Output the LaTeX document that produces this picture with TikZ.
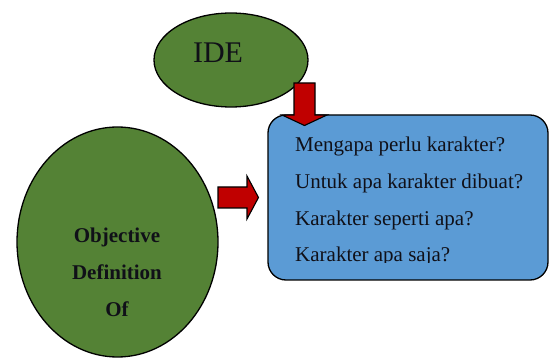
\documentclass[tikz,border=0pt]{standalone}
\usepackage{fontspec}
\setmainfont{Liberation Serif}
\definecolor{leaf}{HTML}{548235}
\definecolor{sky}{HTML}{5B9BD5}
\definecolor{brick}{HTML}{C00000}
\definecolor{ink}{HTML}{101018}
\begin{document}
\begin{tikzpicture}[x=1pt,y=-1pt,
  blob/.style={draw=black,line width=1.3pt,fill=leaf},
  arrowshape/.style={draw=black,line width=1.1pt,fill=brick,line join=miter},
  qline/.style={anchor=base west,inner sep=0pt,font=\fontsize{21}{24}\selectfont,text=ink},
  oline/.style={anchor=base,inner sep=0pt,font=\fontsize{21}{24}\selectfont\bfseries,text=ink}]
\useasboundingbox (0,0) rectangle (550,358);
% IDE ellipse
\draw[blob] (231,60) ellipse [x radius=77, y radius=47];
\node[inner sep=0pt,anchor=base,font=\fontsize{30}{34}\selectfont,text=ink] (ide) at (218,63) {IDE};
% left ellipse
\draw[blob] (117.5,242) ellipse [x radius=100.5, y radius=115];
\node[oline] (o1) at (117,243) {Objective};
\node[oline] (o2) at (117,280) {Definition};
\node[oline] (o3) at (117,317) {Of};
% blue box
\draw[draw=black,line width=1.3pt,fill=sky,rounded corners=18pt] (268,115) rectangle (548,280);
\node[qline] (q1) at (295,152) {Mengapa perlu karakter?};
\node[qline] (q2) at (295,189) {Untuk apa karakter dibuat?};
\node[qline] (q3) at (295,226) {Karakter seperti apa?};
\begin{scope}
\clip (270,230) rectangle (546,262.5);
\node[qline] (q4) at (295,262) {Karakter apa saja?};
\end{scope}
% down arrow
\draw[arrowshape] (294,83) -- (315,83) -- (315,115) -- (327,115) -- (304.5,125.5) -- (282,115) -- (294,115) -- cycle;
% right arrow
\draw[arrowshape] (218,187) -- (247,187) -- (247,176) -- (258.5,197.5) -- (247,219) -- (247,208) -- (218,208) -- cycle;
\end{tikzpicture}
\end{document}
